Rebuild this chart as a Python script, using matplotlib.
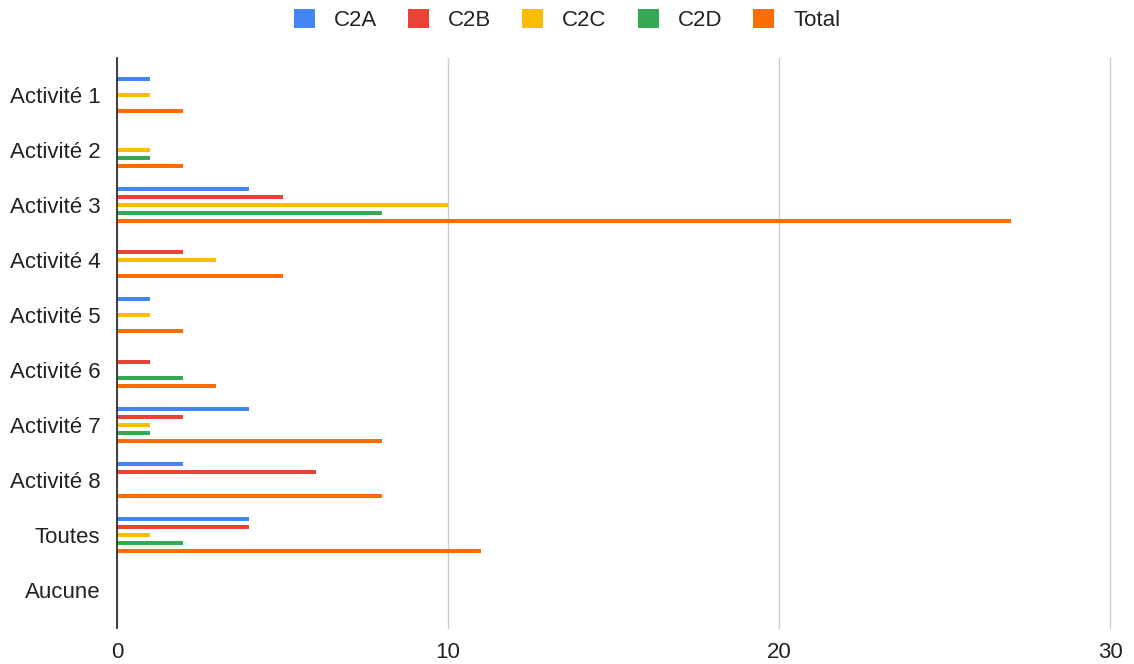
import matplotlib
matplotlib.use("Agg")
import matplotlib.pyplot as plt
from matplotlib.patches import Patch
import numpy as np

plt.rcParams['font.family'] = ['Liberation Sans', 'DejaVu Sans']

categories = ["Activité 1", "Activité 2", "Activité 3", "Activité 4", "Activité 5",
              "Activité 6", "Activité 7", "Activité 8", "Toutes", "Aucune"]
series_names = ["C2A", "C2B", "C2C", "C2D", "Total"]
c2a = [1, 0, 4, 0, 1, 0, 4, 2, 4, 0]
c2b = [0, 0, 5, 2, 0, 1, 2, 6, 4, 0]
c2c = [1, 1, 10, 3, 1, 0, 1, 0, 1, 0]
c2d = [0, 1, 8, 0, 0, 2, 1, 0, 2, 0]
total = [2, 2, 27, 5, 2, 3, 8, 8, 11, 0]
colors = ["#4285F4", "#EA4335", "#FBBC04", "#34A853", "#FF6D01"]

fig = plt.figure(figsize=(11.34, 6.64), dpi=100)
ax = fig.add_axes([117/1134, 1-628/664, (1110-117)/1134, (628-58)/664])

y = np.arange(len(categories))
offsets = np.array([-2, -1, 0, 1, 2]) * 0.142
for vals, off, col, name in zip([c2a, c2b, c2c, c2d, total], offsets, colors, series_names):
    ax.barh(y + off, vals, height=0.075, color=col, label=name, zorder=3)

ax.set_xlim(0, 30)
ax.set_ylim(9.69, -0.673)
ax.set_xticks([0, 10, 20, 30])
ax.set_yticks(y)
ax.set_yticklabels(categories)
ax.tick_params(axis='both', length=0, labelsize=16, colors='#222222')
ax.tick_params(axis='x', pad=10)
ax.tick_params(axis='y', pad=12)
ax.grid(axis='x', color='#cccccc', linewidth=1, zorder=0)
for gl in ax.get_xgridlines():
    gl.set_clip_on(False)
for s in ['top', 'right', 'bottom']:
    ax.spines[s].set_visible(False)
ax.spines['left'].set_color('#333333')
ax.spines['left'].set_linewidth(1.3)
ax.spines['left'].set_zorder(4)

handles = [Patch(facecolor=c, edgecolor='none') for c in colors]
fig.legend(handles, series_names, loc='center', bbox_to_anchor=(0.5, 1-20/664), ncol=5,
           frameon=False, fontsize=16, handlelength=0.95, handleheight=0.95,
           columnspacing=1.4, handletextpad=0.85, labelcolor='#222222')

fig.savefig("out.png", dpi=100)
